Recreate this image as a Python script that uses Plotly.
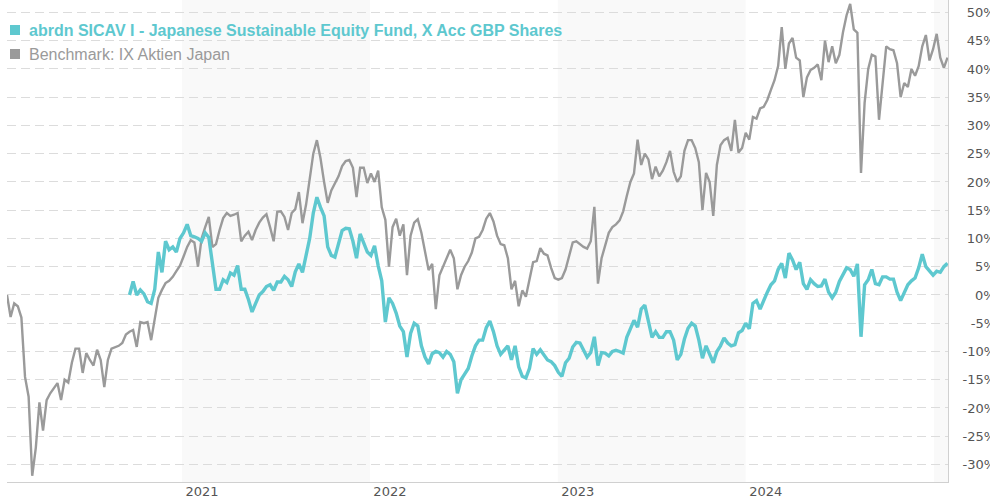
import pandas as pd
import plotly.graph_objects as go

fund_name = "abrdn SICAV I - Japanese Sustainable Equity Fund, X Acc GBP Shares"
bench_name = "Benchmark: IX Aktien Japan"

# weekly observations (percent performance)
bench_start = "2020-01-27"
bench_values = [
    0, -3.9, -1.5, -2, -4, -14.5, -18, -32, -27, -19,
    -24, -18.6, -17.4, -16.5, -15.6, -18.6, -15, -15.5, -12, -9.5,
    -9.5, -13.8, -10.3, -11.5, -12.5, -9.7, -11.5, -16.3, -11.5, -9.5,
    -9.2, -9, -8.5, -7, -6.5, -6.2, -9.2, -4.8, -5, -4.8,
    -8, -4, -0.5, 0.9, 2.1, 2.5, 3.2, 4.2, 5.2, 6.8,
    8.5, 9.7, 9.3, 5, 10, 12, 13.8, 8.5, 9, 11.5,
    13.6, 14.5, 14, 14.2, 14.5, 9.5, 10.5, 11.2, 9.7, 11.5,
    12.8, 13.7, 14.3, 12, 9.5, 14.7, 14.8, 13.8, 11.5, 14.5,
    15.2, 18.2, 12.7, 16, 20.5, 25, 27.4, 24.2, 20, 16.3,
    18.5, 19.8, 21, 22.8, 23.7, 23.9, 22.5, 17.3, 22.5, 22.5,
    19.8, 21.5, 20, 22, 15.5, 13.3, 5, 12, 13.5, 10.5,
    12.5, 3.5, 10.5, 12.8, 13.4, 11, 7.5, 4.4, 5.5, -2.5,
    3.5, 5, 6.5, 8, 6.5, 1, 3.5, 5, 6, 7.5,
    10, 10.3, 11.5, 13.5, 14.5, 13, 10.5, 9, 8.8, 6.5,
    1, 2.5, -2, 0.8, -0.3, 2.5, 5.8, 6, 8.3, 7.3,
    7, 4.8, 3, 2.7, 3, 4.5, 7, 9.3, 9.5, 9,
    8.5, 8.2, 9.5, 15.6, 2, 6.5, 9, 11, 12, 12.5,
    13.2, 14.8, 17.5, 20, 21.5, 27.5, 23, 25, 24, 20.5,
    22.7, 21, 22, 23.5, 25.5, 21.8, 20, 21, 25.5, 27.4,
    27.4, 26, 23.5, 15, 21.6, 20, 14, 23, 26.5, 27.4,
    27.8, 25.5, 31, 25.2, 26, 28.7, 27.5, 31.5, 31.2, 33,
    33.3, 34.5, 36.3, 38, 40.5, 47.4, 40, 44.5, 45.5, 42,
    41.5, 35, 38.5, 39.8, 40.2, 40.8, 38, 45, 41.2, 44,
    41, 42.5, 46.5, 49.5, 51.5, 47, 46.4, 21.6, 34, 40,
    42.5, 42.2, 31, 37.5, 44, 43.5, 43.3, 41, 35, 37.5,
    36.8, 40, 38.8, 40.5, 44, 46, 41.5, 43.5, 46.2, 42,
    40.2, 42,
]

fund_start = "2020-09-21"
fund_values = [
    0, 2.4, 0, 0.9, 0.2, -1.2, -1.5, 1, 7.6, 4,
    9.5, 8, 8.5, 7.6, 10, 11, 12.5, 10.5, 10.3, 10,
    9.5, 11, 10.2, 5.5, 1, 1, 2.7, 2.2, 3.9, 3.5,
    5.2, 1, 1, -0.8, -3, -1.5, 0, 0.6, 1.5, 1.8,
    0.8, 2.3, 2.3, 3.3, 2.7, 1.5, 4.1, 5.5, 4, 7,
    10, 14.5, 17.3, 15.5, 14, 8.5, 7, 6.7, 9.2, 11.4,
    11.8, 11.7, 9.5, 6.5, 10.8, 9, 7.6, 7, 8.7, 5.2,
    2.5, -4.8, -0.5, -1.5, -3.2, -5.5, -6.5, -11, -6.8, -5,
    -5.5, -9, -11, -12.2, -10.4, -10, -10.2, -11, -10, -10.5,
    -11.8, -17.4, -15, -14, -13, -10.8, -9, -8, -8, -5.8,
    -4.6, -6.5, -9, -10.5, -9.8, -9, -11.5, -9, -12.7, -14.4,
    -14.7, -13, -9.5, -10.5, -9.7, -10.6, -11.5, -11.8, -12.5, -13.7,
    -14.4, -12, -11.2, -9.2, -8.4, -8.5, -9.9, -11, -10.2, -7.4,
    -12.5, -10.2, -10.3, -10.8, -10, -9.8, -10, -10.3, -7.5, -5.8,
    -4.5, -5.7, -2.5, -1.8, -5, -7.5, -6.5, -7.5, -7.5, -6.5,
    -6.5, -8, -11.5, -10.5, -7.8, -5.9, -5, -5.5, -8, -11.2,
    -9, -10.5, -12, -10, -9, -7.6, -8.5, -9, -8.8, -6.7,
    -6.3, -5, -6, -1.5, -1, -2.5, -0.8, 0.5, 1.8, 2.5,
    4.5, 5.6, 3, 7.4, 6.2, 4.5, 5.8, 2, 1, 2.7,
    2, 1.5, 1.6, 2.8, 0.5, -0.5, 0.5, 2.4, 3.6, 4.8,
    4.5, 3.3, 5.5, -7.4, 1.8, 2.7, 4.5, 2, 1.8, 3.2,
    3.2, 2.8, 2.8, 0.5, -1, 0.6, 1.8, 2.5, 3, 4.8,
    7.2, 5, 4.2, 3.5, 4.2, 4, 5, 5.6,
]

year_starts = ["2021-01-01", "2022-01-01", "2023-01-01", "2024-01-01", "2025-01-01"]
year_labels = ["2021", "2022", "2023", "2024", ""]
shaded_years = [("2021-01-01", "2022-01-01"), ("2023-01-01", "2024-01-01"), ("2025-01-01", "2025-02-28")]
y_ticks = list(range(-30, 55, 5))

bench_dates = pd.date_range(bench_start, periods=len(bench_values), freq="7D")
fund_dates = pd.date_range(fund_start, periods=len(fund_values), freq="7D")

TEAL = "#5ec8cf"
GRAY = "#9a9a9a"


def pct_label(v):
    s = f"{v}%"
    # pad so labels line up on the right like the reference
    if v >= 0:
        s = "\u2008" + s
    if abs(v) < 10:
        s = "\u2007" + s
    return s


fig = go.Figure()
fig.add_trace(go.Scatter(x=bench_dates, y=bench_values, mode="lines",
                         line=dict(color=GRAY, width=2.4), name=bench_name,
                         hoverinfo="skip"))
fig.add_trace(go.Scatter(x=fund_dates, y=fund_values, mode="lines",
                         line=dict(color=TEAL, width=3.4), name=fund_name,
                         hoverinfo="skip"))

shapes = []
for a, b in shaded_years:
    shapes.append(dict(type="rect", xref="x", yref="paper", x0=a, x1=b, y0=0, y1=1,
                       fillcolor="#f9f9f9", line=dict(width=0), layer="below"))
# legend squares
for i, col in enumerate([TEAL, GRAY]):
    shapes.append(dict(type="rect", xref="paper", yref="paper",
                       xsizemode="pixel", ysizemode="pixel", xanchor=0, yanchor=1,
                       x0=3, x1=13, y0=-25 - 24 * i, y1=-35 - 24 * i,
                       fillcolor=col, line=dict(width=0), layer="above"))

fig.update_layout(
    width=990, height=500,
    margin=dict(l=7, r=42, t=0, b=18, autoexpand=False),
    paper_bgcolor="white", plot_bgcolor="white",
    showlegend=False,
    shapes=shapes,
    xaxis=dict(
        range=["2020-01-27", "2025-01-28"],
        tickvals=year_starts, ticktext=year_labels,
        ticklabelshift=20, ticklabelstandoff=-3,
        showgrid=False, zeroline=False, automargin=False,
        showline=True, linecolor="#d0d0d0", linewidth=1,
        ticks="", tickfont=dict(family="DejaVu Sans", size=13, color="#555555"),
    ),
    yaxis=dict(
        side="right", range=[-33.1, 52.2],
        tickvals=y_ticks, ticktext=[pct_label(v) for v in y_ticks],
        showgrid=True, gridcolor="#dcdcdc", griddash="9px,5px", gridwidth=1,
        zeroline=False, showline=True, linecolor="#d0d0d0", linewidth=1,
        ticks="", ticklabelstandoff=11, automargin=False,
        tickfont=dict(family="DejaVu Sans", size=13, color="#555555"),
    ),
    annotations=[
        dict(xref="paper", yref="paper", x=0, y=1, xshift=20, yshift=-30,
             xanchor="left", yanchor="middle", showarrow=False,
             text=f"<b>{fund_name}</b>",
             font=dict(family="Liberation Sans", size=16, color=TEAL)),
        dict(xref="paper", yref="paper", x=0, y=1, xshift=20, yshift=-54,
             xanchor="left", yanchor="middle", showarrow=False,
             text=bench_name,
             font=dict(family="Liberation Sans", size=16, color=GRAY)),
    ],
)

fig.write_html("out.html", config={"displayModeBar": False},
               post_script="document.body.style.margin='0px';")
